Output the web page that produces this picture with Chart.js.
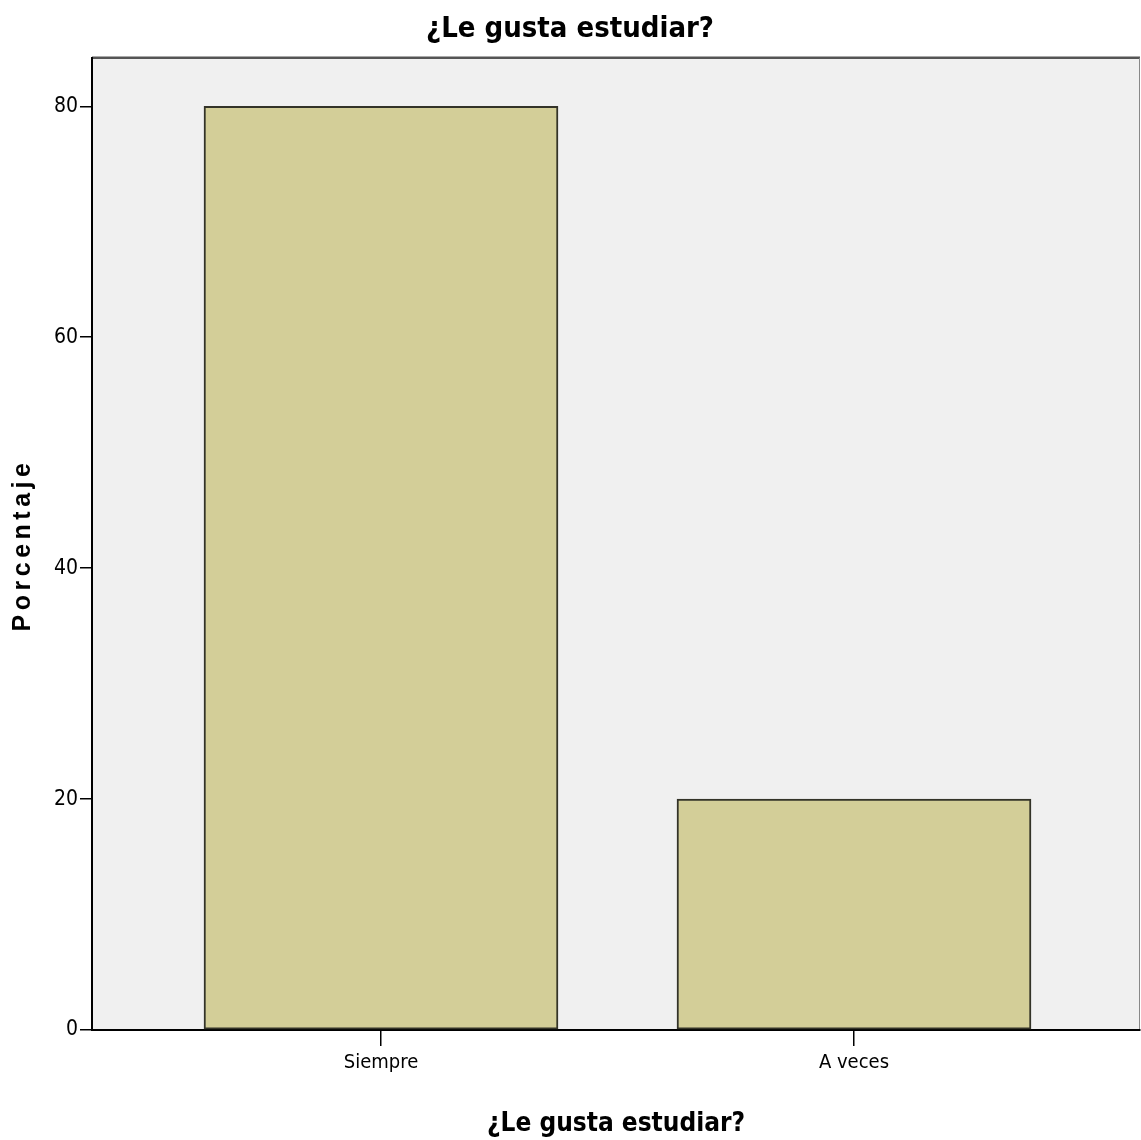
<!DOCTYPE html>
<html>
<head>
<meta charset="utf-8">
<script src="https://cdn.jsdelivr.net/npm/chart.js@4"></script>
<style>
  html,body{margin:0;padding:0;background:#fff;}
  #wrap{width:1141px;height:1140px;}
</style>
</head>
<body>
<div id="wrap"><canvas id="c" width="1141" height="1140"></canvas></div>
<script>
const chartTitle = "¿Le gusta estudiar?";
const xTitle = "¿Le gusta estudiar?";
const yTitle = "Porcentaje";
const categories = ["Siempre", "A veces"];
const values = [80, 20];
const yTicks = [0, 20, 40, 60, 80];

const NARROW = "'Liberation Sans Narrow', 'DejaVu Sans Condensed', 'Liberation Sans', sans-serif";

const plotBg = {
  id: 'plotBg',
  beforeDraw(chart) {
    const {ctx, chartArea: a} = chart;
    ctx.save();
    ctx.fillStyle = '#f0f0f0';
    ctx.fillRect(a.left, a.top, a.right - a.left, a.bottom - a.top);
    ctx.strokeStyle = '#555';
    ctx.lineWidth = 2.5;
    ctx.beginPath();
    ctx.moveTo(a.left, a.top);
    ctx.lineTo(a.right, a.top);
    ctx.stroke();
    ctx.strokeStyle = '#888';
    ctx.lineWidth = 1;
    ctx.beginPath();
    ctx.moveTo(a.right - 0.5, a.top);
    ctx.lineTo(a.right - 0.5, a.bottom);
    ctx.stroke();
    ctx.restore();
  },
  afterDraw(chart) {
    const {ctx} = chart;
    ctx.save();
    ctx.fillStyle = '#000';
    ctx.font = "bold 25px 'Liberation Sans', Arial, sans-serif";
    if ('letterSpacing' in ctx) ctx.letterSpacing = '4.5px';
    ctx.textAlign = 'center';
    ctx.textBaseline = 'middle';
    ctx.translate(23, 545);
    ctx.rotate(-Math.PI / 2);
    ctx.fillText(yTitle, 0, 0);
    ctx.restore();
  }
};

new Chart(document.getElementById('c'), {
  type: 'bar',
  data: {
    datasets: [{
      data: categories.map((c, i) => ({x: i + 1, y: values[i]})),
      backgroundColor: '#d3ce98',
      borderColor: '#333328',
      borderWidth: 2,
      borderSkipped: false,
      barThickness: 354
    }]
  },
  options: {
    responsive: false,
    animation: false,
    devicePixelRatio: 1,
    layout: {padding: {left: 0, right: 1, top: 0, bottom: 0}},
    plugins: {
      legend: {display: false},
      tooltip: {enabled: false},
      title: {
        display: true,
        text: chartTitle,
        color: '#000',
        font: {family: NARROW, size: 29, weight: 'bold'},
        padding: {top: 12, bottom: 11}
      }
    },
    scales: {
      x: {
        type: 'linear',
        min: 1 - 289 / 473,
        max: 2 + 286 / 473,
        offset: false,
        afterBuildTicks(axis) { axis.ticks = categories.map((c, i) => ({value: i + 1})); },
        afterFit(axis) { axis.height = 110; },
        grid: {offset: false, drawOnChartArea: false, drawTicks: true, tickLength: 16, color: '#000', lineWidth: 1.5},
        border: {display: true, color: '#000', width: 2},
        ticks: {
          color: '#000',
          padding: 5,
          autoSkip: false,
          maxRotation: 0,
          font: {family: NARROW, size: 20},
          callback: (v) => categories[Math.round(v) - 1] || ''
        },
        title: {
          display: true,
          text: xTitle,
          color: '#000',
          font: {family: "'DejaVu Sans Condensed', 'DejaVu Sans', sans-serif", size: 26, weight: 'bold'},
          padding: {top: 12, bottom: 0}
        }
      },
      y: {
        min: 0,
        max: 84.2,
        afterBuildTicks(axis) { axis.ticks = yTicks.map(v => ({value: v})); },
        afterFit(axis) { axis.width = 92; },
        grid: {drawOnChartArea: false, drawTicks: true, tickLength: 12, color: '#000', lineWidth: 1.5},
        border: {display: true, color: '#000', width: 2},
        ticks: {
          color: '#000',
          padding: 2,
          font: {family: NARROW, size: 21}
        },
        title: {display: false}
      }
    }
  },
  plugins: [plotBg]
});
</script>
</body>
</html>
